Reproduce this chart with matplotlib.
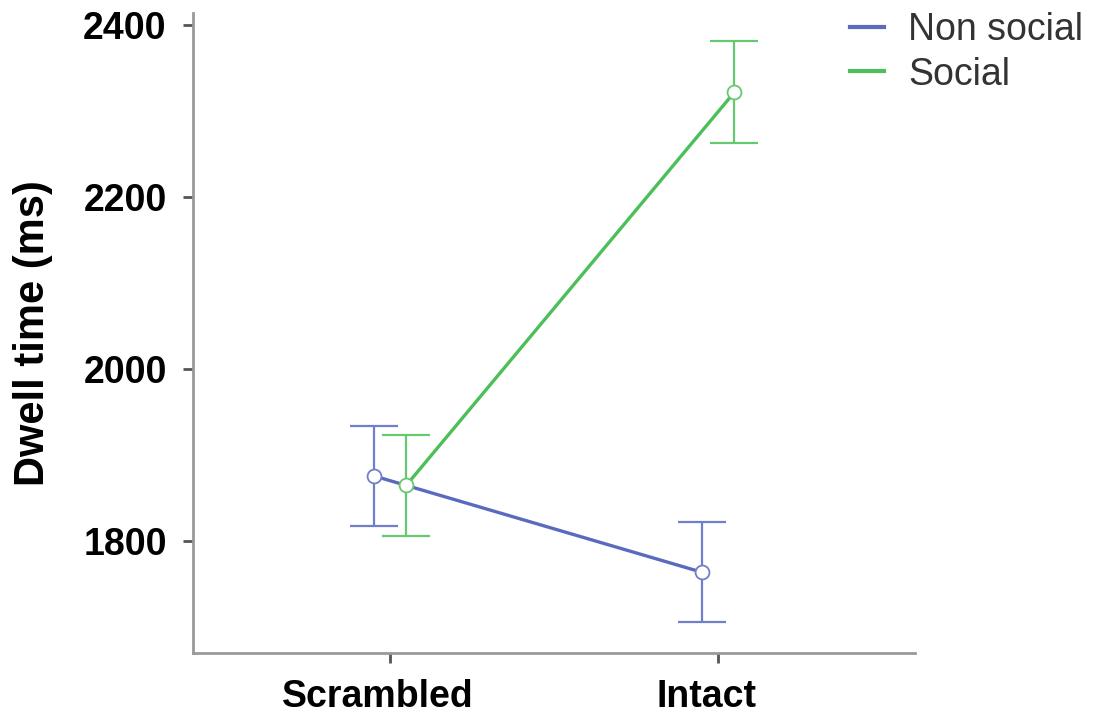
import numpy as np
import matplotlib.pyplot as plt
import matplotlib.transforms as mtransforms

plt.rcParams['font.family'] = ['Liberation Sans', 'DejaVu Sans']

conditions = ["Scrambled", "Intact"]
groups = ["Non social", "Social"]
nonsocial_mean = [1876, 1764]
nonsocial_se = [58, 58]
social_mean = [1865, 2322]
social_se = [59, 59]

colors = {"Non social": "#5a6bbf", "Social": "#4dbf58"}
err_colors = {"Non social": "#6f7fca", "Social": "#66c970"}
offsets = {"Non social": -0.05, "Social": 0.05}
means = {"Non social": nonsocial_mean, "Social": social_mean}
ses = {"Non social": nonsocial_se, "Social": social_se}

fig = plt.figure(figsize=(11.03, 7.14), dpi=100)
ax = fig.add_axes([0.175, 0.0854, 0.6545, 0.8964])

x = np.arange(len(conditions))
for g in groups:
    xs = x + offsets[g]
    ax.errorbar(xs, means[g], yerr=ses[g], fmt='none', ecolor=err_colors[g],
                elinewidth=1.6, capsize=17, capthick=1.6, zorder=2)
    ax.plot(xs, means[g], color=colors[g], lw=2.4, label=g, zorder=3)
    ax.plot(xs, means[g], 'o', ms=10, mfc='white', mec=err_colors[g],
            mew=1.3, zorder=4)

ax.set_xlim(-0.6, 1.6)
ax.set_ylim(1670, 2414)
ax.set_xticks(x)
ax.set_xticklabels(conditions)
ax.set_yticks([1800, 2000, 2200, 2400])
ax.set_ylabel("Dwell time (ms)", fontsize=30, fontweight='bold', labelpad=22)

for lab in ax.get_xticklabels() + ax.get_yticklabels():
    lab.set_fontsize(27)
    lab.set_fontweight('bold')
ax.tick_params(axis='both', colors='#555555', length=7, width=2, labelcolor='black')
ax.tick_params(axis='y', pad=12)
ax.tick_params(axis='x', pad=12)

# labels in the reference sit a little left of their ticks
shift = mtransforms.ScaledTranslation(-12 / 100, 0, fig.dpi_scale_trans)
for lab in ax.get_xticklabels():
    lab.set_transform(lab.get_transform() + shift)

for side in ['top', 'right']:
    ax.spines[side].set_visible(False)
for side in ['left', 'bottom']:
    ax.spines[side].set_color('#999999')
    ax.spines[side].set_linewidth(2)

leg = fig.legend(loc='upper left', bbox_to_anchor=(0.74, 1.03), frameon=False,
                 fontsize=27, handlelength=0.9, handletextpad=0.65,
                 labelspacing=0.22)
for t in leg.get_texts():
    t.set_color('#333333')
for h in leg.get_lines():
    h.set_linewidth(3)

fig.savefig("out.png", dpi=100)
